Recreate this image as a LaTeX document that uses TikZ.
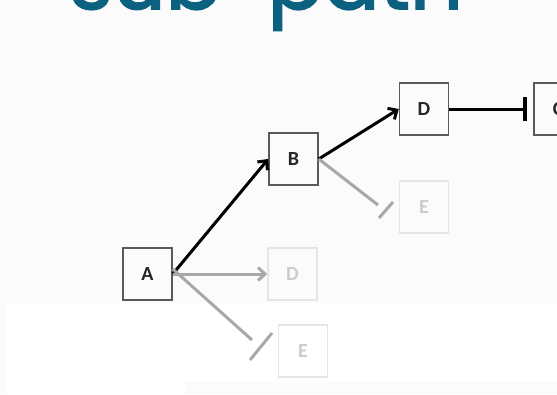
\documentclass[tikz,border=0pt]{standalone}
\usepackage{fontspec}
\setmainfont{Carlito}
\newfontfamily\titlefont{Poppins}[FakeBold=2]
\usepackage{tikz}
\usetikzlibrary{positioning, arrows.meta}
\definecolor{titleteal}{HTML}{0C6180}
\definecolor{boxgray}{HTML}{5A5A5A}
\definecolor{fadegray}{HTML}{A8A8A8}
\definecolor{paper}{HTML}{FBFBFB}

\begin{document}
\begin{tikzpicture}[
  x=1pt, y=-1pt,
  stepbox/.style={draw=boxgray, line width=1.5pt, minimum width=49pt,
              minimum height=52pt, inner sep=0pt, text=black!85,
              font=\bfseries\fontsize{20}{20}\selectfont},
  fadedbox/.style={stepbox, draw=gray!20, text=gray!40},
  mainedge/.style={line width=3pt, black},
  fadededge/.style={line width=3pt, fadegray},
  >={Straight Barb[length=7pt, width=13pt]}
]
  \useasboundingbox (0,0) rectangle (557,394);
  \clip (0,0) rectangle (557,394);
  % background
  \fill[paper] (0,0) rectangle (557,394);
  \fill[white] (5,303) rectangle (557,382);
  \fill[white] (5,382) rectangle (185,394);

  % Title (cut off at the top)
  \node[anchor=base west, inner sep=0pt, text=titleteal,
        font=\titlefont\fontsize{83}{83}\selectfont] (title)
    at (69,9) {sub-path};

  % Steps on the taken path
  \node[stepbox] (a) at (147.5,274) {A};
  \node[stepbox] (b) at (293.5,159) {B};
  \node[stepbox] (d) at (424,109) {D};
  \node[stepbox, anchor=west] (c) at (533,109) {C};

  % Steps not taken
  \node[fadedbox] (dfade) at (292.5,274) {D};
  \node[fadedbox] (efade) at (303,351) {E};
  \node[fadedbox] (ebfade) at (424,207) {E};

  % Cut ends
  \coordinate (aecut) at (252,340);
  \coordinate (becut) at (378,205);
  \coordinate (aeslash1) at (250,360);
  \coordinate (aeslash2) at (272,333);
  \coordinate (beslash1) at (379,218);
  \coordinate (beslash2) at (393,202);

  % Connectors
  \draw[mainedge, ->] (a.east) -- (b.west);
  \draw[mainedge, ->] (b.east) -- (d.west);
  \draw[mainedge, -{Bar[width=24pt, line width=4pt, sep=1pt]}] (d.east) -- ([xshift=-5pt]c.west);
  \draw[fadededge, ->] (a.east) -- (dfade.west);
  \draw[fadededge] ([yshift=5pt]a.east) -- (aecut);
  \draw[fadededge] (aeslash1) -- (aeslash2);
  \draw[fadededge] (b.east) -- (becut);
  \draw[fadededge] (beslash1) -- (beslash2);
\end{tikzpicture}
\end{document}
